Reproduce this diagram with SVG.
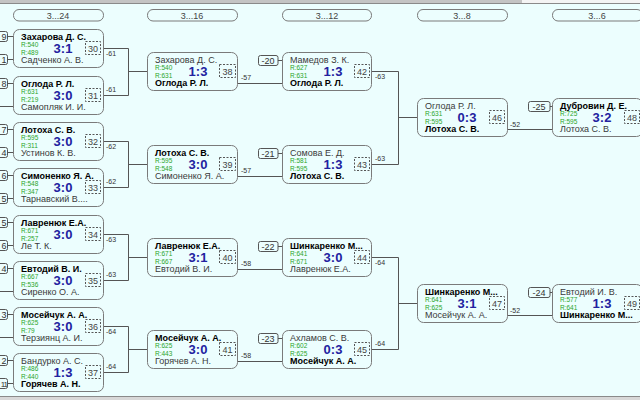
<svg xmlns="http://www.w3.org/2000/svg" width="640" height="400" viewBox="0 0 640 400">
<style>
text{font-family:"Liberation Sans",Arial,sans-serif}
.box{fill:#ecfefe;stroke:#7a7a7a;stroke-width:1}
.hdr{fill:#ecfefe;stroke:#7a7a7a;stroke-width:1}
.ht{font-size:9px;fill:#444;text-anchor:middle}
.w{font-size:9px;font-weight:bold;fill:#000}
.l{font-size:9px;fill:#3a3a3a}
.r{font-size:6.5px;fill:#2aa52a}
.sc{font-size:13px;font-weight:bold;fill:#2222a0;text-anchor:middle}
.mn{fill:none;stroke:#555;stroke-width:1;stroke-dasharray:2,1.5}
.mt{font-size:9px;fill:#444;text-anchor:middle}
.sb{fill:#ecfefe;stroke:#555;stroke-width:1}
.st{font-size:9px;fill:#333}
.sm{font-size:9px;fill:#333;text-anchor:middle}
.lb{font-size:7px;fill:#333}
.cn{fill:none;stroke:#555;stroke-width:1}
</style>
<rect x="0" y="0" width="640" height="400" fill="#ecfefe"/>
<rect x="0" y="0" width="522" height="3" fill="#c4c4c4"/>
<rect x="522" y="0" width="118" height="3" fill="#f4f4f4"/>
<line x1="0" y1="3.5" x2="640" y2="3.5" stroke="#8a8a8a"/>
<line x1="0" y1="396.5" x2="640" y2="396.5" stroke="#8a8a8a"/>
<rect x="0" y="397" width="640" height="3" fill="#d8d8d8"/>

<g id="headers">
<rect class="hdr" x="13.5" y="9.5" width="90" height="11.5" rx="5.5"/><text class="ht" x="58" y="18.5">3...24</text>
<rect class="hdr" x="147.5" y="9.5" width="90" height="11.5" rx="5.5"/><text class="ht" x="192" y="18.5">3...16</text>
<rect class="hdr" x="282.5" y="9.5" width="89" height="11.5" rx="5.5"/><text class="ht" x="327" y="18.5">3...12</text>
<rect class="hdr" x="417.5" y="9.5" width="90" height="11.5" rx="5.5"/><text class="ht" x="462" y="18.5">3...8</text>
<rect class="hdr" x="552.5" y="9.5" width="90" height="11.5" rx="5.5"/><text class="ht" x="597" y="18.5">3...6</text>
</g>

<g id="connectors">
<path class="cn" d="M7.5 36.5H13 M7.5 59.5H13 M7.5 83.5H13 M0 106.5H13 M7.5 129.5H13 M7.5 152.5H13 M7.5 175.5H13 M7.5 198.5H13 M7.5 222.5H13 M7.5 245.5H13 M7.5 268.5H13 M0 291.5H13 M7.5 314.5H13 M0 337.5H13 M7.5 360.5H13 M7.5 383.5H13"/>
<path class="cn" d="M103 48.5H128.5V95.5H103 M128.5 71.5H147 M103 141.5H128.5V187.5H103 M128.5 164.5H147 M103 234.5H128.5V280.5H103 M128.5 257.5H147 M103 326.5H128.5V372.5H103 M128.5 349.5H147"/>
<path class="cn" d="M238 83.5H282 M238 176.5H282 M238 269.5H282 M238 361.5H282"/>
<path class="cn" d="M278 60.5H282 M278 153.5H282 M278 246.5H282 M278 338.5H282"/>
<path class="cn" d="M372 71.5H398.5V164.5H372 M398.5 117.5H417 M372 257.5H398.5V349.5H372 M398.5 303.5H417"/>
<path class="cn" d="M507 129.5H552 M507 315.5H552 M550 106.5H552 M550 292.5H552"/>
</g>

<g id="seeds">
<rect class="sb" x="-10" y="31.5" width="17.5" height="10" rx="2"/><text class="st" x="6.5" y="40" text-anchor="end">9</text>
<rect class="sb" x="-10" y="54.5" width="17.5" height="10" rx="2"/><text class="st" x="6.5" y="63" text-anchor="end">1</text>
<rect class="sb" x="-10" y="78.5" width="17.5" height="10" rx="2"/><text class="st" x="6.5" y="87" text-anchor="end">8</text>
<rect class="sb" x="-10" y="124.5" width="17.5" height="10" rx="2"/><text class="st" x="6.5" y="133" text-anchor="end">7</text>
<rect class="sb" x="-10" y="147.5" width="17.5" height="10" rx="2"/><text class="st" x="6.5" y="156" text-anchor="end">4</text>
<rect class="sb" x="-10" y="170.5" width="17.5" height="10" rx="2"/><text class="st" x="6.5" y="179" text-anchor="end">6</text>
<rect class="sb" x="-10" y="193.5" width="17.5" height="10" rx="2"/><text class="st" x="6.5" y="202" text-anchor="end">5</text>
<rect class="sb" x="-10" y="217.5" width="17.5" height="10" rx="2"/><text class="st" x="6.5" y="226" text-anchor="end">5</text>
<rect class="sb" x="-10" y="240.5" width="17.5" height="10" rx="2"/><text class="st" x="6.5" y="249" text-anchor="end">6</text>
<rect class="sb" x="-10" y="263.5" width="17.5" height="10" rx="2"/><text class="st" x="6.5" y="272" text-anchor="end">4</text>
<rect class="sb" x="-10" y="309.5" width="17.5" height="10" rx="2"/><text class="st" x="6.5" y="318" text-anchor="end">3</text>
<rect class="sb" x="-10" y="355.5" width="17.5" height="10" rx="2"/><text class="st" x="6.5" y="364" text-anchor="end">2</text>
<rect class="sb" x="-10" y="378.5" width="17.5" height="10" rx="2"/><text class="st" x="7" y="387" text-anchor="end" style="font-size:8px;letter-spacing:-1px">11</text>
</g>

<g id="refs">
<rect class="sb" x="258.5" y="55.5" width="19.5" height="10" rx="2"/><text class="sm" x="268" y="64">-20</text>
<rect class="sb" x="258.5" y="148.5" width="19.5" height="10" rx="2"/><text class="sm" x="268" y="157">-21</text>
<rect class="sb" x="258.5" y="241.5" width="19.5" height="10" rx="2"/><text class="sm" x="268" y="250">-22</text>
<rect class="sb" x="258.5" y="333.5" width="19.5" height="10" rx="2"/><text class="sm" x="268" y="342">-23</text>
<rect class="sb" x="528.5" y="101.5" width="21.5" height="10" rx="2"/><text class="sm" x="539" y="110">-25</text>
<rect class="sb" x="528.5" y="287.5" width="21.5" height="10" rx="2"/><text class="sm" x="539" y="296">-24</text>
</g>

<g id="labels">
<text class="lb" x="106" y="56">-61</text><text class="lb" x="106" y="92">-61</text>
<text class="lb" x="106" y="149">-62</text><text class="lb" x="106" y="184">-62</text>
<text class="lb" x="106" y="242">-63</text><text class="lb" x="106" y="277">-63</text>
<text class="lb" x="106" y="334">-64</text><text class="lb" x="106" y="369">-64</text>
<text class="lb" x="241" y="80">-57</text><text class="lb" x="241" y="173">-57</text>
<text class="lb" x="241" y="266">-58</text><text class="lb" x="241" y="358">-58</text>
<text class="lb" x="375" y="79">-63</text><text class="lb" x="375" y="161">-63</text>
<text class="lb" x="375" y="265">-64</text><text class="lb" x="375" y="346">-64</text>
<text class="lb" x="510" y="127">-52</text><text class="lb" x="510" y="313">-52</text>
</g>

<g id="m30" transform="translate(13,29)"><rect class="box" x="0.5" y="0.5" width="90" height="38" rx="6"/><text class="w" x="8" y="11">Захарова Д. С.</text><text class="r" x="8" y="18">R:540</text><text class="r" x="8" y="26">R:489</text><text class="sc" x="50" y="24">3:1</text><rect class="mn" x="72.5" y="12.5" width="15" height="13"/><text class="mt" x="80" y="22.5">30</text><text class="l" x="8" y="34">Садченко А. В.</text></g>
<g id="m31" transform="translate(13,76)"><rect class="box" x="0.5" y="0.5" width="90" height="38" rx="6"/><text class="w" x="8" y="11">Оглода Р. Л.</text><text class="r" x="8" y="18">R:631</text><text class="r" x="8" y="26">R:219</text><text class="sc" x="50" y="24">3:0</text><rect class="mn" x="72.5" y="12.5" width="15" height="13"/><text class="mt" x="80" y="22.5">31</text><text class="l" x="8" y="34">Самопляк И. И.</text></g>
<g id="m32" transform="translate(13,122)"><rect class="box" x="0.5" y="0.5" width="90" height="38" rx="6"/><text class="w" x="8" y="11">Лотоха С. В.</text><text class="r" x="8" y="18">R:595</text><text class="r" x="8" y="26">R:311</text><text class="sc" x="50" y="24">3:0</text><rect class="mn" x="72.5" y="12.5" width="15" height="13"/><text class="mt" x="80" y="22.5">32</text><text class="l" x="8" y="34">Устинов К. В.</text></g>
<g id="m33" transform="translate(13,168)"><rect class="box" x="0.5" y="0.5" width="90" height="38" rx="6"/><text class="w" x="8" y="11">Симоненко Я. А.</text><text class="r" x="8" y="18">R:548</text><text class="r" x="8" y="26">R:347</text><text class="sc" x="50" y="24">3:0</text><rect class="mn" x="72.5" y="12.5" width="15" height="13"/><text class="mt" x="80" y="22.5">33</text><text class="l" x="8" y="34">Тарнавский В....</text></g>
<g id="m34" transform="translate(13,215)"><rect class="box" x="0.5" y="0.5" width="90" height="38" rx="6"/><text class="w" x="8" y="11">Лавренюк Е.А.</text><text class="r" x="8" y="18">R:671</text><text class="r" x="8" y="26">R:257</text><text class="sc" x="50" y="24">3:0</text><rect class="mn" x="72.5" y="12.5" width="15" height="13"/><text class="mt" x="80" y="22.5">34</text><text class="l" x="8" y="34">Ле Т. К.</text></g>
<g id="m35" transform="translate(13,261)"><rect class="box" x="0.5" y="0.5" width="90" height="38" rx="6"/><text class="w" x="8" y="11">Евтодий В. И.</text><text class="r" x="8" y="18">R:667</text><text class="r" x="8" y="26">R:536</text><text class="sc" x="50" y="24">3:0</text><rect class="mn" x="72.5" y="12.5" width="15" height="13"/><text class="mt" x="80" y="22.5">35</text><text class="l" x="8" y="34">Сиренко О. А.</text></g>
<g id="m36" transform="translate(13,307)"><rect class="box" x="0.5" y="0.5" width="90" height="38" rx="6"/><text class="w" x="8" y="11">Мосейчук А. А.</text><text class="r" x="8" y="18">R:625</text><text class="r" x="8" y="26">R:79</text><text class="sc" x="50" y="24">3:0</text><rect class="mn" x="72.5" y="12.5" width="15" height="13"/><text class="mt" x="80" y="22.5">36</text><text class="l" x="8" y="34">Терзиянц А. И.</text></g>
<g id="m37" transform="translate(13,353)"><rect class="box" x="0.5" y="0.5" width="90" height="38" rx="6"/><text class="l" x="8" y="11">Бандурко А. С.</text><text class="r" x="8" y="18">R:486</text><text class="r" x="8" y="26">R:440</text><text class="sc" x="50" y="24">1:3</text><rect class="mn" x="72.5" y="12.5" width="15" height="13"/><text class="mt" x="80" y="22.5">37</text><text class="w" x="8" y="34">Горячев А. Н.</text></g>

<g id="m38" transform="translate(147,52)"><rect class="box" x="0.5" y="0.5" width="90" height="38" rx="6"/><text class="l" x="8" y="11">Захарова Д. С.</text><text class="r" x="8" y="18">R:540</text><text class="r" x="8" y="26">R:631</text><text class="sc" x="51" y="24">1:3</text><rect class="mn" x="72.5" y="12.5" width="16" height="13"/><text class="mt" x="80.5" y="22.5">38</text><text class="w" x="8" y="34">Оглода Р. Л.</text></g>
<g id="m39" transform="translate(147,145)"><rect class="box" x="0.5" y="0.5" width="90" height="38" rx="6"/><text class="w" x="8" y="11">Лотоха С. В.</text><text class="r" x="8" y="18">R:595</text><text class="r" x="8" y="26">R:548</text><text class="sc" x="51" y="24">3:0</text><rect class="mn" x="72.5" y="12.5" width="16" height="13"/><text class="mt" x="80.5" y="22.5">39</text><text class="l" x="8" y="34">Симоненко Я. А.</text></g>
<g id="m40" transform="translate(147,238)"><rect class="box" x="0.5" y="0.5" width="90" height="38" rx="6"/><text class="w" x="8" y="11">Лавренюк Е.А.</text><text class="r" x="8" y="18">R:671</text><text class="r" x="8" y="26">R:667</text><text class="sc" x="51" y="24">3:1</text><rect class="mn" x="72.5" y="12.5" width="16" height="13"/><text class="mt" x="80.5" y="22.5">40</text><text class="l" x="8" y="34">Евтодий В. И.</text></g>
<g id="m41" transform="translate(147,330)"><rect class="box" x="0.5" y="0.5" width="90" height="38" rx="6"/><text class="w" x="8" y="11">Мосейчук А. А.</text><text class="r" x="8" y="18">R:625</text><text class="r" x="8" y="26">R:443</text><text class="sc" x="51" y="24">3:0</text><rect class="mn" x="72.5" y="12.5" width="16" height="13"/><text class="mt" x="80.5" y="22.5">41</text><text class="l" x="8" y="34">Горячев А. Н.</text></g>

<g id="m42" transform="translate(282,52)"><rect class="box" x="0.5" y="0.5" width="89" height="38" rx="6"/><text class="l" x="8" y="11">Мамедов З. К.</text><text class="r" x="8" y="18">R:627</text><text class="r" x="8" y="26">R:631</text><text class="sc" x="51" y="24">1:3</text><rect class="mn" x="72.5" y="12.5" width="15" height="13"/><text class="mt" x="80" y="22.5">42</text><text class="w" x="8" y="34">Оглода Р. Л.</text></g>
<g id="m43" transform="translate(282,145)"><rect class="box" x="0.5" y="0.5" width="89" height="38" rx="6"/><text class="l" x="8" y="11">Сомова Е. Д.</text><text class="r" x="8" y="18">R:581</text><text class="r" x="8" y="26">R:595</text><text class="sc" x="51" y="24">1:3</text><rect class="mn" x="72.5" y="12.5" width="15" height="13"/><text class="mt" x="80" y="22.5">43</text><text class="w" x="8" y="34">Лотоха С. В.</text></g>
<g id="m44" transform="translate(282,238)"><rect class="box" x="0.5" y="0.5" width="89" height="38" rx="6"/><text class="w" x="8" y="11">Шинкаренко М...</text><text class="r" x="8" y="18">R:641</text><text class="r" x="8" y="26">R:671</text><text class="sc" x="51" y="24">3:0</text><rect class="mn" x="72.5" y="12.5" width="15" height="13"/><text class="mt" x="80" y="22.5">44</text><text class="l" x="8" y="34">Лавренюк Е.А.</text></g>
<g id="m45" transform="translate(282,330)"><rect class="box" x="0.5" y="0.5" width="89" height="38" rx="6"/><text class="l" x="8" y="11">Ахламов С. В.</text><text class="r" x="8" y="18">R:602</text><text class="r" x="8" y="26">R:625</text><text class="sc" x="51" y="24">0:3</text><rect class="mn" x="72.5" y="12.5" width="15" height="13"/><text class="mt" x="80" y="22.5">45</text><text class="w" x="8" y="34">Мосейчук А. А.</text></g>

<g id="m46" transform="translate(417,98)"><rect class="box" x="0.5" y="0.5" width="90" height="38" rx="6"/><text class="l" x="8" y="11">Оглода Р. Л.</text><text class="r" x="8" y="18">R:631</text><text class="r" x="8" y="26">R:595</text><text class="sc" x="50" y="24">0:3</text><rect class="mn" x="72.5" y="12.5" width="15" height="13"/><text class="mt" x="80" y="22.5">46</text><text class="w" x="8" y="34">Лотоха С. В.</text></g>
<g id="m47" transform="translate(417,284)"><rect class="box" x="0.5" y="0.5" width="90" height="38" rx="6"/><text class="w" x="8" y="11">Шинкаренко М...</text><text class="r" x="8" y="18">R:641</text><text class="r" x="8" y="26">R:625</text><text class="sc" x="50" y="24">3:1</text><rect class="mn" x="72.5" y="12.5" width="15" height="13"/><text class="mt" x="80" y="22.5">47</text><text class="l" x="8" y="34">Мосейчук А. А.</text></g>

<g id="m48" transform="translate(552,98)"><rect class="box" x="0.5" y="0.5" width="90" height="38" rx="6"/><text class="w" x="8" y="11">Дубровин Д. Е.</text><text class="r" x="8" y="18">R:725</text><text class="r" x="8" y="26">R:595</text><text class="sc" x="50" y="24">3:2</text><rect class="mn" x="72.5" y="12.5" width="15" height="13"/><text class="mt" x="80" y="22.5">48</text><text class="l" x="8" y="34">Лотоха С. В.</text></g>
<g id="m49" transform="translate(552,284)"><rect class="box" x="0.5" y="0.5" width="90" height="38" rx="6"/><text class="l" x="8" y="11">Евтодий И. В.</text><text class="r" x="8" y="18">R:577</text><text class="r" x="8" y="26">R:641</text><text class="sc" x="50" y="24">1:3</text><rect class="mn" x="72.5" y="12.5" width="15" height="13"/><text class="mt" x="80" y="22.5">49</text><text class="w" x="8" y="34">Шинкаренко М...</text></g>
</svg>
